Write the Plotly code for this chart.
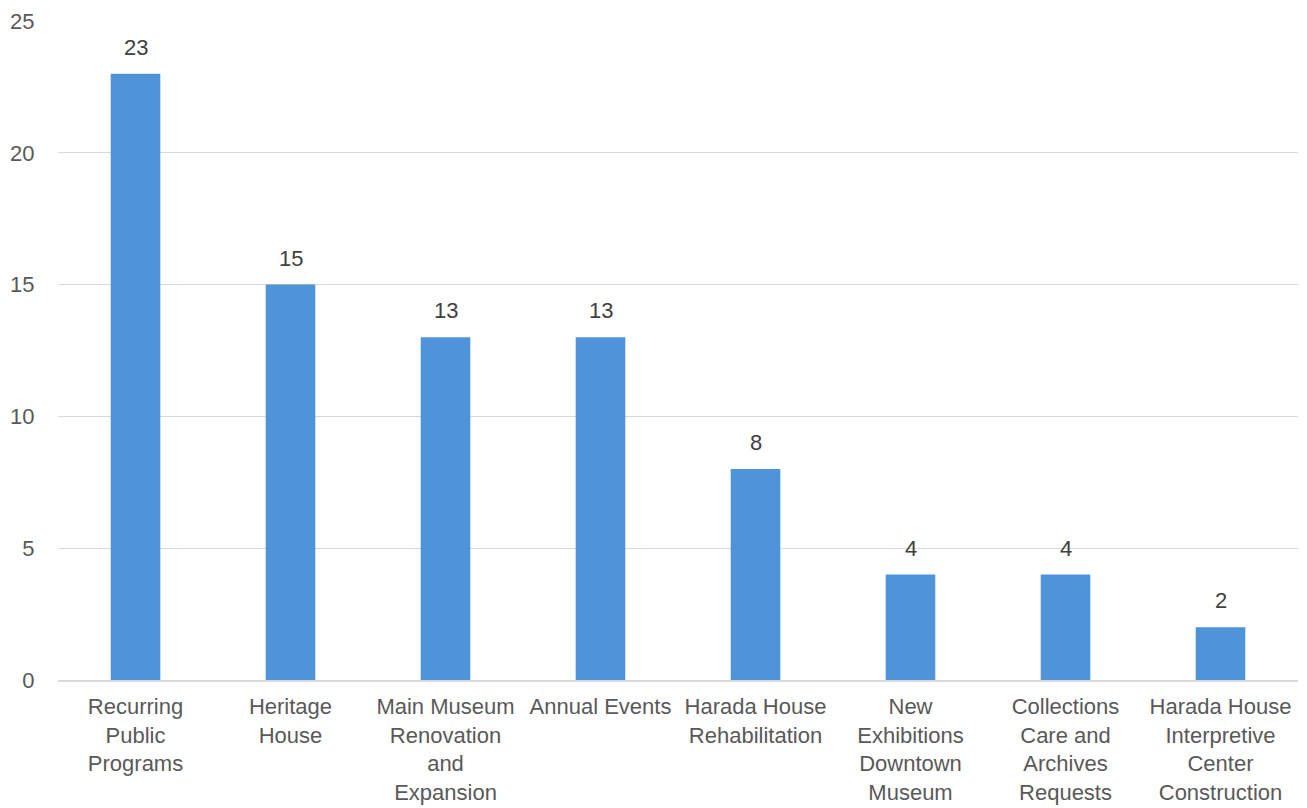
import plotly.graph_objects as go

categories = [
    "Recurring<br>Public<br>Programs",
    "Heritage<br>House",
    "Main Museum<br>Renovation<br>and<br>Expansion",
    "Annual Events",
    "Harada House<br>Rehabilitation",
    "New<br>Exhibitions<br>Downtown<br>Museum",
    "Collections<br>Care and<br>Archives<br>Requests",
    "Harada House<br>Interpretive<br>Center<br>Construction",
]
values = [23, 15, 13, 13, 8, 4, 4, 2]
y_ticks = [0, 5, 10, 15, 20, 25]

FONT = "Liberation Sans, Arial, sans-serif"
FS = 22

fig = go.Figure(
    go.Bar(
        x=categories,
        y=values,
        marker=dict(color="#4F94D9", line=dict(width=0)),
        hoverinfo="skip",
    )
)

for c, v in zip(categories, values):
    fig.add_annotation(
        x=c, y=v, text=str(v), showarrow=False,
        yanchor="bottom", yshift=12,
        font=dict(family=FONT, size=FS, color="#404040"),
    )

fig.update_layout(
    width=1307, height=808,
    margin=dict(l=50, r=17, t=13, b=136),
    paper_bgcolor="white", plot_bgcolor="white",
    bargap=0.68,
    showlegend=False,
    font=dict(family=FONT, size=FS, color="#595959"),
)
fig.update_xaxes(
    showgrid=False, showline=True, linecolor="#D9D9D9", linewidth=1.5,
    tickfont=dict(family=FONT, size=FS, color="#595959"),
    ticks="outside", ticklen=6, tickcolor="rgba(0,0,0,0)",
    tickangle=0, automargin=False,
)
fig.update_yaxes(
    range=[0, 25], tickvals=y_ticks, showgrid=True, gridcolor="#D9D9D9", gridwidth=1.2,
    zeroline=False, showline=False,
    tickfont=dict(family=FONT, size=FS, color="#595959"),
    ticks="outside", ticklen=18, tickcolor="rgba(0,0,0,0)",
    automargin=False,
)

fig.write_html("out.html")
